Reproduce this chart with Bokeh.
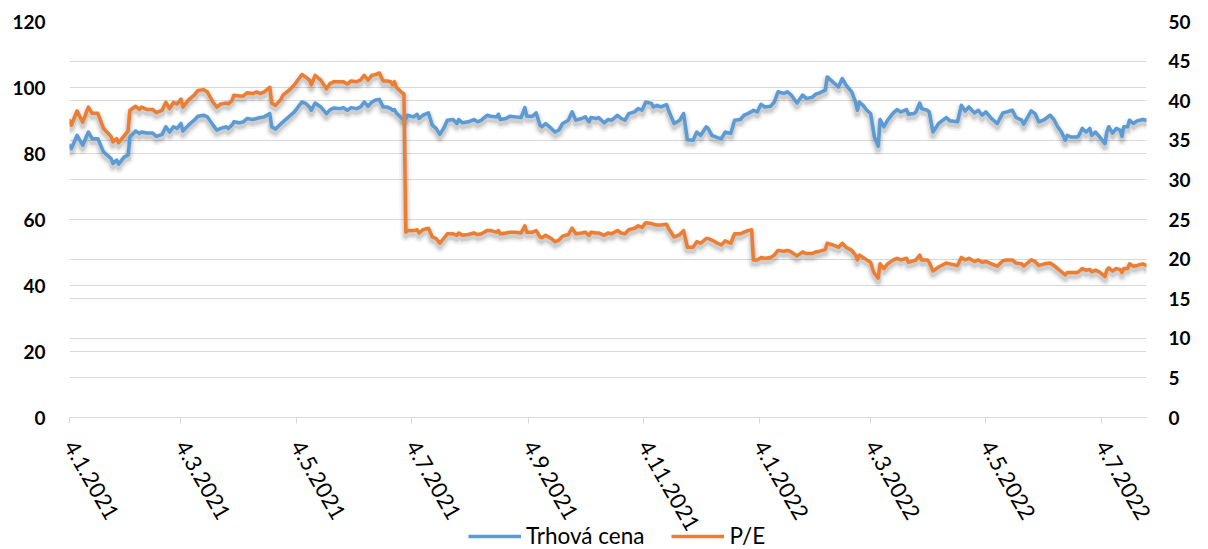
import math
import pandas as pd
from bokeh.plotting import figure
from bokeh.layouts import column
from bokeh.models import (Range1d, LinearAxis, FixedTicker, Grid, Legend, LegendItem,
                          CustomJSTickFormatter)
from bokeh.embed import file_html
from bokeh.resources import INLINE

# ---------------- data ----------------
dates = [
    "2021-01-04", "2021-01-05", "2021-01-08", "2021-01-11", "2021-01-14", "2021-01-16", "2021-01-19",
    "2021-01-22", "2021-01-26", "2021-01-27", "2021-01-29", "2021-01-30", "2021-02-02", "2021-02-04",
    "2021-02-05", "2021-02-08", "2021-02-10", "2021-02-11", "2021-02-14", "2021-02-17", "2021-02-19",
    "2021-02-22", "2021-02-24", "2021-02-26", "2021-02-28", "2021-03-02", "2021-03-04", "2021-03-05",
    "2021-03-08", "2021-03-11", "2021-03-13", "2021-03-16", "2021-03-18", "2021-03-21", "2021-03-23",
    "2021-03-25", "2021-03-28", "2021-03-29", "2021-03-31", "2021-04-01", "2021-04-04", "2021-04-06",
    "2021-04-08", "2021-04-11", "2021-04-13", "2021-04-15", "2021-04-17", "2021-04-20", "2021-04-21",
    "2021-04-23", "2021-04-26", "2021-04-27", "2021-05-01", "2021-05-03", "2021-05-07", "2021-05-09",
    "2021-05-11", "2021-05-12", "2021-05-14", "2021-05-17", "2021-05-20", "2021-05-22", "2021-05-24",
    "2021-05-27", "2021-05-29", "2021-05-31", "2021-06-02", "2021-06-05", "2021-06-07", "2021-06-09",
    "2021-06-11", "2021-06-13", "2021-06-15", "2021-06-17", "2021-06-19", "2021-06-21", "2021-06-23",
    "2021-06-24", "2021-06-25", "2021-06-26", "2021-06-29", "2021-06-30", "2021-07-01", "2021-07-02",
    "2021-07-05", "2021-07-07", "2021-07-08", "2021-07-10", "2021-07-13", "2021-07-15", "2021-07-17",
    "2021-07-19", "2021-07-21", "2021-07-23", "2021-07-26", "2021-07-28", "2021-07-29", "2021-07-31",
    "2021-08-03", "2021-08-06", "2021-08-08", "2021-08-10", "2021-08-13", "2021-08-15", "2021-08-18",
    "2021-08-19", "2021-08-20", "2021-08-23", "2021-08-25", "2021-08-28", "2021-08-31", "2021-09-02",
    "2021-09-03", "2021-09-06", "2021-09-08", "2021-09-10", "2021-09-11", "2021-09-13", "2021-09-16",
    "2021-09-18", "2021-09-20", "2021-09-22", "2021-09-25", "2021-09-27", "2021-09-29", "2021-10-02",
    "2021-10-04", "2021-10-06", "2021-10-07", "2021-10-10", "2021-10-11", "2021-10-14", "2021-10-16",
    "2021-10-18", "2021-10-21", "2021-10-23", "2021-10-25", "2021-10-27", "2021-10-30", "2021-11-01",
    "2021-11-03", "2021-11-05", "2021-11-08", "2021-11-09", "2021-11-11", "2021-11-13", "2021-11-16",
    "2021-11-17", "2021-11-20", "2021-11-23", "2021-11-25", "2021-11-27", "2021-11-30", "2021-12-02",
    "2021-12-04", "2021-12-07", "2021-12-08", "2021-12-10", "2021-12-13", "2021-12-15", "2021-12-17",
    "2021-12-20", "2021-12-22", "2021-12-25", "2021-12-27", "2021-12-29", "2021-12-31", "2022-01-01",
    "2022-01-03", "2022-01-05", "2022-01-07", "2022-01-10", "2022-01-12", "2022-01-14", "2022-01-17",
    "2022-01-19", "2022-01-21", "2022-01-24", "2022-01-27", "2022-01-29", "2022-02-01", "2022-02-03",
    "2022-02-05", "2022-02-08", "2022-02-09", "2022-02-12", "2022-02-15", "2022-02-17", "2022-02-19",
    "2022-02-22", "2022-02-24", "2022-02-25", "2022-02-26", "2022-02-28", "2022-03-02", "2022-03-04",
    "2022-03-05", "2022-03-06", "2022-03-08", "2022-03-09", "2022-03-11", "2022-03-13", "2022-03-16",
    "2022-03-18", "2022-03-20", "2022-03-23", "2022-03-24", "2022-03-27", "2022-03-28", "2022-03-30",
    "2022-03-31", "2022-04-03", "2022-04-04", "2022-04-06", "2022-04-09", "2022-04-13", "2022-04-15",
    "2022-04-19", "2022-04-21", "2022-04-23", "2022-04-25", "2022-04-28", "2022-04-30", "2022-05-02",
    "2022-05-04", "2022-05-07", "2022-05-10", "2022-05-13", "2022-05-15", "2022-05-18", "2022-05-20",
    "2022-05-23", "2022-05-24", "2022-05-28", "2022-05-30", "2022-06-01", "2022-06-04", "2022-06-07",
    "2022-06-09", "2022-06-11", "2022-06-13", "2022-06-15", "2022-06-16", "2022-06-18", "2022-06-21",
    "2022-06-22", "2022-06-24", "2022-06-26", "2022-06-28", "2022-06-29", "2022-07-01", "2022-07-03",
    "2022-07-06", "2022-07-07", "2022-07-08", "2022-07-10", "2022-07-12", "2022-07-14", "2022-07-15",
    "2022-07-16", "2022-07-18", "2022-07-19", "2022-07-21", "2022-07-23", "2022-07-26", "2022-07-28",
]

price = [  # Trhová cena (left axis)
    82.5, 81.5, 85.5, 82.5, 86.5, 84.5, 84.5, 80.5, 78.5, 77.0, 78.0, 76.8, 79.0, 79.5,
    85.0, 86.8, 86.1, 86.5, 86.2, 86.2, 85.2, 85.8, 88.1, 86.5, 88.1, 87.6, 89.1, 86.8,
    88.6, 90.1, 91.3, 91.6, 91.1, 88.6, 87.1, 87.6, 88.1, 87.6, 88.6, 89.6, 89.3, 89.6,
    90.6, 90.3, 90.6, 90.9, 91.1, 92.1, 88.1, 87.4, 89.1, 89.6, 91.6, 92.6, 95.6, 95.2,
    94.1, 93.1, 95.3, 94.1, 92.1, 93.3, 93.8, 93.6, 93.9, 93.1, 93.9, 93.6, 94.1, 95.6,
    94.3, 95.6, 96.2, 96.4, 94.1, 94.1, 93.6, 93.1, 93.3, 92.3, 90.6, 90.6, 90.6, 91.6,
    91.1, 91.9, 90.6, 91.6, 92.3, 88.6, 87.6, 85.8, 87.6, 90.1, 90.3, 89.1, 90.3, 89.3,
    89.6, 90.3, 89.6, 90.1, 91.6, 91.3, 91.1, 91.9, 90.3, 90.6, 91.3, 91.1, 90.9, 93.9,
    91.3, 91.3, 92.3, 88.6, 88.1, 89.1, 87.6, 86.5, 87.1, 89.1, 90.1, 92.6, 90.1, 90.6,
    91.1, 89.6, 90.9, 90.6, 90.9, 89.3, 90.3, 90.1, 91.6, 90.6, 90.1, 92.1, 92.6, 93.6,
    93.1, 95.6, 95.2, 94.1, 94.6, 94.1, 94.8, 93.1, 89.1, 90.1, 92.1, 84.2, 84.0, 86.5,
    85.5, 88.1, 87.6, 85.5, 84.8, 84.5, 86.5, 86.1, 90.1, 90.3, 91.6, 92.1, 92.7, 93.1,
    92.6, 94.9, 94.1, 94.3, 95.6, 98.7, 98.2, 98.7, 97.7, 95.3, 97.7, 96.7, 97.0, 98.0,
    98.4, 99.2, 103.2, 101.7, 100.2, 102.7, 100.7, 98.7, 95.6, 93.1, 95.6, 94.6, 93.1, 92.1,
    88.6, 85.0, 82.2, 90.3, 88.1, 90.1, 92.3, 93.3, 92.6, 93.3, 91.9, 92.1, 92.6, 95.3,
    93.6, 93.1, 92.6, 86.5, 89.1, 90.9, 89.9, 89.6, 94.6, 92.9, 94.1, 92.3, 93.1, 91.6,
    92.6, 90.6, 89.1, 92.3, 92.6, 93.1, 90.9, 90.1, 88.9, 92.9, 92.1, 89.6, 90.3, 91.6,
    90.3, 88.1, 86.5, 84.0, 85.5, 85.0, 85.0, 85.2, 87.6, 86.5, 87.6, 85.5, 86.5, 85.2,
    83.0, 86.5, 88.1, 86.2, 87.6, 87.1, 85.2, 88.1, 88.1, 90.1, 89.1, 89.9, 90.3, 90.1,
]

pe = [  # P/E (right axis)
    37.5, 36.9, 38.7, 37.3, 39.2, 38.4, 38.4, 36.5, 35.5, 34.8, 35.2, 34.7, 35.6, 36.2,
    38.8, 39.3, 38.9, 39.2, 38.9, 38.9, 38.5, 38.8, 39.8, 39.0, 39.8, 39.6, 40.2, 39.2,
    40.1, 40.7, 41.3, 41.4, 41.1, 39.8, 39.2, 39.6, 39.7, 39.6, 40.0, 40.7, 40.6, 40.6,
    41.0, 40.9, 41.1, 40.9, 41.1, 41.7, 39.7, 39.4, 40.2, 40.7, 41.5, 42.0, 43.3, 43.0,
    42.6, 42.0, 43.2, 42.6, 41.5, 42.2, 42.4, 42.4, 42.4, 42.1, 42.5, 42.4, 42.6, 43.2,
    42.6, 43.2, 43.3, 43.5, 42.5, 42.5, 42.4, 42.0, 42.4, 41.7, 41.0, 40.9, 23.4, 23.6,
    23.6, 23.7, 23.3, 23.7, 23.9, 22.8, 22.6, 22.0, 22.6, 23.2, 23.2, 23.0, 23.3, 23.0,
    23.1, 23.3, 23.1, 23.2, 23.6, 23.6, 23.4, 23.6, 23.2, 23.3, 23.4, 23.4, 23.3, 24.2,
    23.4, 23.4, 23.6, 22.8, 22.7, 23.0, 22.6, 22.2, 22.4, 22.9, 23.1, 23.9, 23.2, 23.3,
    23.4, 23.0, 23.4, 23.3, 23.3, 23.0, 23.3, 23.2, 23.6, 23.3, 23.2, 23.7, 23.9, 24.2,
    24.0, 24.6, 24.5, 24.4, 24.3, 24.3, 24.4, 23.9, 22.8, 23.1, 23.6, 21.5, 21.5, 22.2,
    22.0, 22.6, 22.6, 22.4, 22.0, 21.8, 22.3, 22.0, 23.2, 23.2, 23.4, 23.6, 23.7, 19.9,
    19.9, 20.2, 20.1, 20.2, 20.5, 21.1, 21.0, 21.1, 20.9, 20.4, 20.9, 20.7, 20.7, 20.9,
    21.0, 21.2, 22.0, 21.8, 21.5, 22.0, 21.5, 21.1, 20.5, 19.9, 20.5, 20.2, 19.9, 19.6,
    18.8, 18.2, 17.6, 19.4, 18.8, 19.4, 19.9, 20.1, 19.9, 20.1, 19.6, 19.8, 19.9, 20.5,
    19.9, 19.9, 19.6, 18.5, 19.0, 19.5, 19.4, 19.2, 20.2, 19.9, 20.1, 19.7, 19.9, 19.6,
    19.7, 19.4, 19.1, 19.8, 19.9, 19.9, 19.5, 19.4, 19.1, 19.9, 19.7, 19.2, 19.4, 19.5,
    19.2, 18.8, 18.4, 18.0, 18.3, 18.3, 18.3, 18.4, 18.8, 18.6, 18.7, 18.4, 18.6, 18.4,
    17.8, 18.6, 18.9, 18.5, 18.8, 18.7, 18.3, 18.8, 18.8, 19.4, 19.1, 19.2, 19.4, 19.2,
]

series_names = ["Trhová cena", "P/E"]
tick_dates = ["2021-01-04", "2021-03-04", "2021-05-04", "2021-07-04", "2021-09-04",
              "2021-11-04", "2022-01-04", "2022-03-04", "2022-05-04", "2022-07-04"]
left_ticks = [0, 20, 40, 60, 80, 100, 120]
right_ticks = [0, 5, 10, 15, 20, 25, 30, 35, 40, 45, 50]
x_start, x_end = "2021-01-04", "2022-07-28"

# ---------------- styling ----------------
BLUE = "#5B9BD5"
ORANGE = "#ED7D31"
GRID = "#D9D9D9"
FONT = "Lato"

x = pd.to_datetime(dates)
FRAME_H = 396
SHADOW_PX = 3.5
MAIN_H = 549
LEG_H = 30

p = figure(width=1208, height=MAIN_H, x_axis_type="datetime",
           x_range=Range1d(pd.Timestamp(x_start), pd.Timestamp(x_end)),
           y_range=Range1d(left_ticks[0], left_ticks[-1]),
           output_backend="svg", toolbar_location=None,
           min_border_left=69, min_border_right=62, min_border_top=21,
           min_border_bottom=MAIN_H - 21 - FRAME_H)
p.outline_line_color = None
p.background_fill_color = "white"
p.border_fill_color = "white"

lspan = left_ticks[-1] - left_ticks[0]
rspan = right_ticks[-1] - right_ticks[0]
dl = SHADOW_PX * lspan / FRAME_H
dr = SHADOW_PX * rspan / FRAME_H
p.extra_y_ranges = {
    "right": Range1d(right_ticks[0], right_ticks[-1]),
    "lshadow": Range1d(left_ticks[0] + dl, left_ticks[-1] + dl),
    "rshadow": Range1d(right_ticks[0] + dr, right_ticks[-1] + dr),
}

# soft shadows under the lines
for w, a in [(12, 0.045), (8, 0.065), (5, 0.09)]:
    p.line(x, price, y_range_name="lshadow", line_color="black", line_alpha=a,
           line_width=w, line_join="round", line_cap="round")
    p.line(x, pe, y_range_name="rshadow", line_color="black", line_alpha=a,
           line_width=w, line_join="round", line_cap="round")

p.line(x, price, line_color=BLUE, line_width=3.5, line_join="round", line_cap="round")
p.line(x, pe, y_range_name="right", line_color=ORANGE, line_width=3.5,
       line_join="round", line_cap="round")

# grids
p.xgrid.grid_line_color = None
p.ygrid.ticker = FixedTicker(ticks=left_ticks)
p.ygrid.grid_line_color = GRID
p.ygrid.grid_line_width = 1
rgrid = Grid(dimension=1, ticker=FixedTicker(ticks=right_ticks), y_range_name="right",
             grid_line_color=GRID, grid_line_width=1)
p.add_layout(rgrid)

# x axis
xa = p.xaxis[0]
xa.ticker = FixedTicker(ticks=[pd.Timestamp(t).value / 1e6 for t in tick_dates])
xa.formatter = CustomJSTickFormatter(code="""
const d = new Date(tick);
return d.getUTCDate() + '.' + (d.getUTCMonth() + 1) + '.' + d.getUTCFullYear();
""")
xa.major_label_orientation = -math.pi / 3
xa.axis_line_color = GRID
xa.major_tick_line_color = GRID
xa.major_tick_out = 6
xa.major_tick_in = 0
xa.minor_tick_line_color = None
xa.major_label_standoff = 19
xa.major_label_text_font = FONT
xa.major_label_text_font_size = "22px"
xa.major_label_text_color = "black"

# left axis
ya = p.yaxis[0]
ya.ticker = FixedTicker(ticks=left_ticks)
ya.axis_line_color = None
ya.major_tick_line_color = None
ya.minor_tick_line_color = None
ya.major_tick_out = 0
ya.major_label_standoff = 24
ya.major_label_text_font = FONT
ya.major_label_text_font_style = "bold"
ya.major_label_text_font_size = "19px"
ya.major_label_text_color = "black"

# right axis
ra = LinearAxis(y_range_name="right", ticker=FixedTicker(ticks=right_ticks))
ra.axis_line_color = None
ra.major_tick_line_color = None
ra.minor_tick_line_color = None
ra.major_tick_out = 0
ra.major_label_standoff = 22
ra.major_label_text_font = FONT
ra.major_label_text_font_style = "bold"
ra.major_label_text_font_size = "19px"
ra.major_label_text_color = "black"
p.add_layout(ra, "right")

# ---------------- legend strip (overlaps the bottom of the chart) ----------------
lg = figure(width=1208, height=LEG_H, x_axis_location=None, y_axis_location=None,
            toolbar_location=None, output_backend="svg", min_border=0,
            x_range=Range1d(0, 1), y_range=Range1d(0, 1))
lg.outline_line_color = None
lg.grid.visible = False
lg.background_fill_alpha = 0
lg.border_fill_alpha = 0
lg.margin = (-LEG_H, 0, 0, 0)
# key renderers share the series data; the strip's view window keeps them out of sight
k_price = lg.line(x, price, line_color=BLUE, line_width=3.5)
k_pe = lg.line(x, pe, line_color=ORANGE, line_width=3.5)
legend = Legend(items=[LegendItem(label=series_names[0], renderers=[k_price]),
                       LegendItem(label=series_names[1], renderers=[k_pe])],
                orientation="horizontal", location=(399, 0),
                border_line_color=None, background_fill_alpha=0,
                padding=0, margin=0, spacing=27, glyph_width=53, glyph_height=26,
                label_standoff=5, label_height=26,
                label_text_font=FONT, label_text_font_size="22.5px", label_text_color="black")
lg.add_layout(legend, "center")

layout = column(p, lg, spacing=0)
open("out.html", "w").write(file_html(layout, INLINE))
